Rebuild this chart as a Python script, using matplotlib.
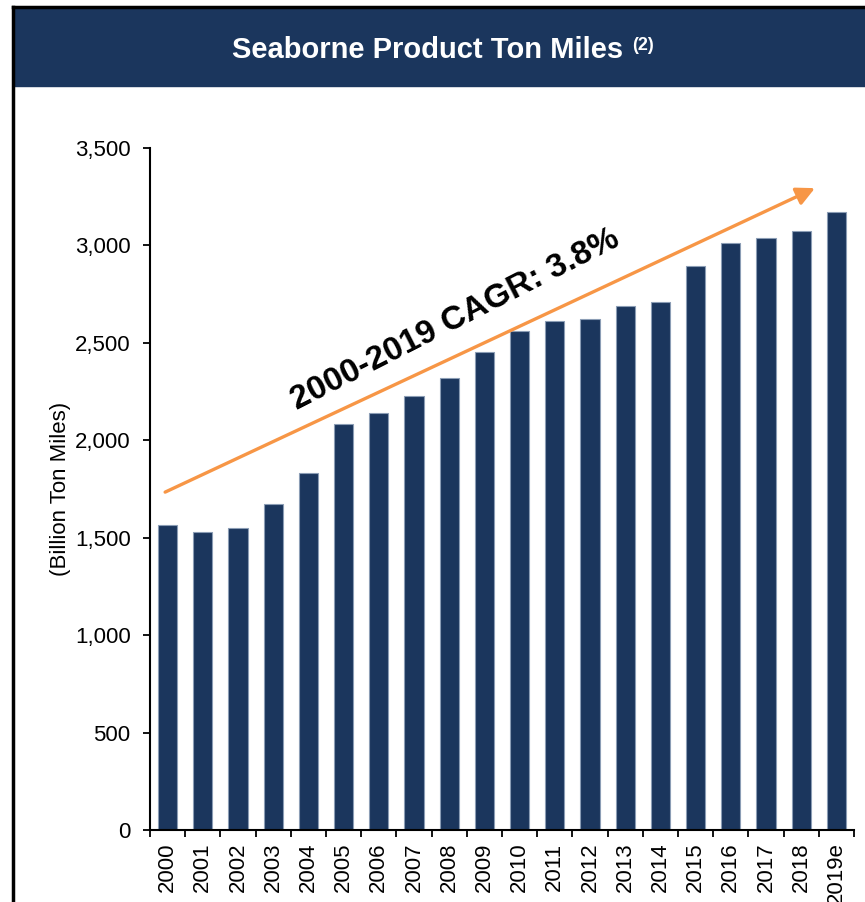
import matplotlib
matplotlib.use("Agg")
import matplotlib.pyplot as plt
from matplotlib.patches import Rectangle
from matplotlib.lines import Line2D
from matplotlib.ticker import FuncFormatter, FixedLocator

plt.rcParams["font.family"] = ["Liberation Sans", "DejaVu Sans"]

years = ["2000", "2001", "2002", "2003", "2004", "2005", "2006", "2007", "2008",
         "2009", "2010", "2011", "2012", "2013", "2014", "2015", "2016", "2017",
         "2018", "2019e"]
ton_miles = [1565, 1527, 1551, 1671, 1832, 2083, 2140, 2228, 2318, 2453,
             2560, 2612, 2622, 2687, 2709, 2894, 3010, 3036, 3072, 3169]
y_ticks = [0, 500, 1000, 1500, 2000, 2500, 3000, 3500]

# trend arrow endpoints (category position, value)
trend_start = (-0.07, 1734)
trend_end = (18.39, 3294)
cagr_label = "2000-2019 CAGR: 3.8%"

navy = "#1b365d"
orange = "#f79646"

W, H = 865, 902
fig = plt.figure(figsize=(W / 100, H / 100), dpi=100)

# header banner and frame
fig.patches.append(Rectangle((14 / W, 1 - 86 / H), 1 - 14 / W, 77 / H,
                             transform=fig.transFigure, color=navy, zorder=0))
fig.lines.append(Line2D([13 / W, 13 / W], [0, 1 - 7 / H], transform=fig.transFigure,
                        color="black", lw=2.5))
fig.lines.append(Line2D([13 / W, 1], [1 - 7 / H, 1 - 7 / H], transform=fig.transFigure,
                        color="black", lw=2.5))
fig.text(232 / W, 1 - 58 / H, "Seaborne Product Ton Miles", color="white",
         fontsize=21, fontweight="bold", ha="left", va="baseline")
fig.text(632 / W, 1 - 50 / H, "(2)", color="white", fontsize=13,
         fontweight="bold", ha="left", va="baseline")

ax = fig.add_axes([150 / W, 72 / H, 704 / W, 682 / H])
x = list(range(len(years)))
ax.bar(x, ton_miles, width=0.55, color=navy, edgecolor="#8b9db5", linewidth=0.8, zorder=2)

ax.set_xlim(-0.5, len(years) - 0.5)
ax.set_ylim(0, 3500)
ax.set_yticks(y_ticks)
ax.yaxis.set_major_formatter(FuncFormatter(lambda v, _: f"{int(v):,}"))
ax.tick_params(axis="y", labelsize=16, length=5, width=1.3, pad=9)

ax.set_xticks(x)
ax.set_xticklabels(years, rotation=90)
ax.tick_params(axis="x", which="major", length=0, labelsize=16, pad=9)
ax.xaxis.set_minor_locator(FixedLocator([i - 0.5 for i in range(len(years) + 1)]))
ax.tick_params(axis="x", which="minor", length=5, width=1.3)

for side in ("top", "right"):
    ax.spines[side].set_visible(False)
for side in ("left", "bottom"):
    ax.spines[side].set_linewidth(1.5)

ax.set_ylabel("(Billion Ton Miles)", fontsize=16)
ax.yaxis.set_label_coords(-0.112, 0.5)

ax.annotate("", xy=trend_end, xytext=trend_start,
            arrowprops=dict(arrowstyle="-|>,head_length=1.1,head_width=0.55",
                            color=orange, lw=2.4, shrinkA=0, shrinkB=0),
            zorder=3, annotation_clip=False)
ax.text(8.16, 2617, cagr_label, fontsize=24, fontweight="bold", rotation=27,
        rotation_mode="anchor", ha="center", va="center", zorder=4)

fig.savefig("out.png", dpi=100)
